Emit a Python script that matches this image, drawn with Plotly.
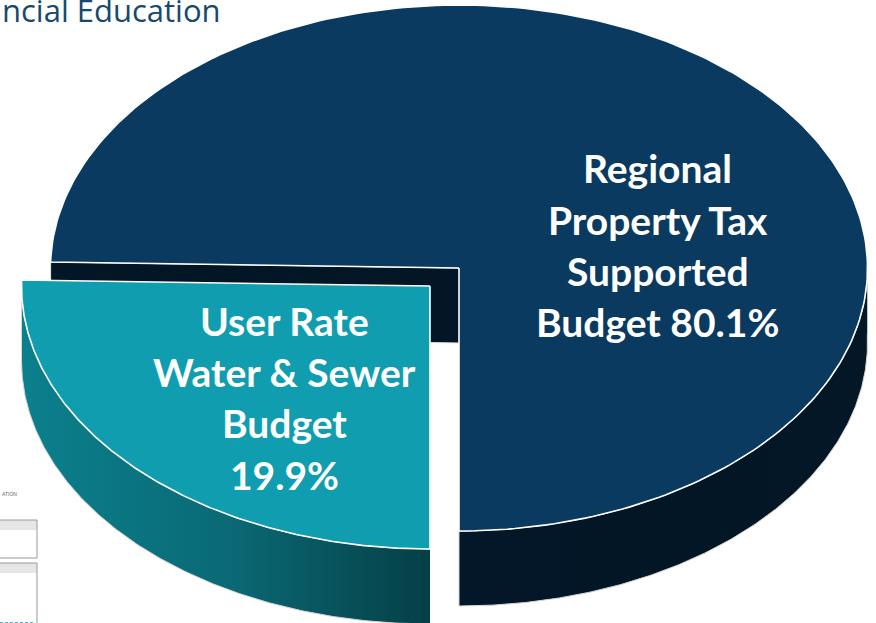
import numpy as np
import plotly.graph_objects as go

categories = ["Regional Property Tax Supported Budget", "User Rate Water & Sewer Budget"]
shares = [80.1, 19.9]

W, H = 876, 623
RX, RY, DEPTH = 408.5, 263, 75
NAVY_C = (459, 268)
TEAL_C = (430, 286)
WARP = 91.3 / (19.9 * 3.6)   # perspective stretch of the projected slice angle
FONT = "Lato"

span = shares[1] * 3.6 * WARP
t0, t1 = 90.0, 90.0 + span


def arc(c, a, b, dy=0, n=240):
    t = np.radians(np.linspace(a, b, n))
    return c[0] + RX * np.cos(t), c[1] + dy + RY * np.sin(t)


fig = go.Figure()


def poly(x, y, fill=None, grad=None, line="rgba(0,0,0,0)", lw=0):
    kw = dict(fillgradient=grad) if grad else dict(fillcolor=fill)
    fig.add_trace(go.Scatter(x=list(x), y=list(y), mode="lines", fill="toself",
                             line=dict(color=line, width=lw), hoverinfo="skip",
                             showlegend=False, **kw))


# navy notch wall (the inner cut face seen behind the slice)
ex, ey = arc(NAVY_C, t1, t1, n=1)
poly([NAVY_C[0], ex[0], ex[0], NAVY_C[0]],
     [NAVY_C[1], ey[0], ey[0] + DEPTH, NAVY_C[1] + DEPTH],
     fill="#031625", line="#e6e6e6", lw=1)

# navy outer wall (front-right)
tx, ty = arc(NAVY_C, -2, t0)
bx, by = arc(NAVY_C, t0, -2, dy=DEPTH)
poly(np.r_[tx, bx], np.r_[ty, by],
     grad=dict(type="horizontal", colorscale=[[0, "#03172A"], [0.5, "#031625"], [1, "#031726"]]),
     line="#d5d5d5", lw=1)

# navy top face
ax_, ay_ = arc(NAVY_C, t1, 450)
poly(np.r_[NAVY_C[0], ax_, NAVY_C[0]], np.r_[NAVY_C[1], ay_, NAVY_C[1]],
     fill="#0B3A60", line="#ffffff", lw=1.6)

# teal outer wall
tx, ty = arc(TEAL_C, t0, 180)
bx, by = arc(TEAL_C, 180, t0, dy=DEPTH)
poly(np.r_[tx, bx], np.r_[ty, by],
     grad=dict(type="horizontal", colorscale=[[0, "#0B808D"], [0.5, "#0A6A76"], [1, "#053F46"]]),
     line="#d5d5d5", lw=1)

# teal top face
ax_, ay_ = arc(TEAL_C, t0, t1)
poly(np.r_[TEAL_C[0], ax_, TEAL_C[0]], np.r_[TEAL_C[1], ay_, TEAL_C[1]],
     fill="#0F9DAF", line="#ffffff", lw=1.6)

navy_lines = ["Regional", "Property Tax", "Supported", f"Budget {shares[0]}%"]
teal_lines = ["User Rate", "Water & Sewer", "Budget", f"{shares[1]}%"]
annotations = []
for txt, y in zip(navy_lines, [168, 220, 271, 322]):
    annotations.append(dict(x=657.5, y=y, text=f"<b>{txt}</b>", showarrow=False, xanchor="center",
                            yanchor="middle", font=dict(family=FONT, size=39, color="white")))
for txt, y in zip(teal_lines, [321, 372, 423, 475]):
    annotations.append(dict(x=284, y=y, text=f"<b>{txt}</b>", showarrow=False, xanchor="center",
                            yanchor="middle", font=dict(family=FONT, size=39, color="white")))
annotations.append(dict(x=0, y=10, text="ncial Education", showarrow=False, xanchor="left",
                        yanchor="middle", font=dict(family="Open Sans", size=31, color="#17496F")))
annotations.append(dict(x=0, y=494, text="ATION", showarrow=False, xanchor="left",
                        yanchor="middle", font=dict(family="Liberation Sans", size=5, color="#666666")))

shapes = []
for top, bot in [(520, 558), (563, 640)]:
    shapes.append(dict(type="rect", x0=-5, x1=37, y0=top, y1=top + 10, fillcolor="#e6e6e6",
                       line=dict(width=0), layer="below"))
    shapes.append(dict(type="rect", x0=-5, x1=37, y0=top, y1=bot, line=dict(color="#9a9a9a", width=1),
                       layer="below"))
shapes.append(dict(type="line", x0=0, x1=33, y0=622.5, y1=622.5,
                   line=dict(color="#45b6e0", width=1, dash="3px,2px"), layer="below"))

fig.update_layout(width=W, height=H, margin=dict(l=0, r=0, t=0, b=0), autosize=False,
                  paper_bgcolor="white", plot_bgcolor="white", annotations=annotations,
                  shapes=shapes, showlegend=False,
                  xaxis=dict(range=[0, W], visible=False, fixedrange=True),
                  yaxis=dict(range=[H, 0], visible=False, fixedrange=True))

fig.write_html("out.html", config=dict(displayModeBar=False),
               post_script="document.body.style.margin='0';")
